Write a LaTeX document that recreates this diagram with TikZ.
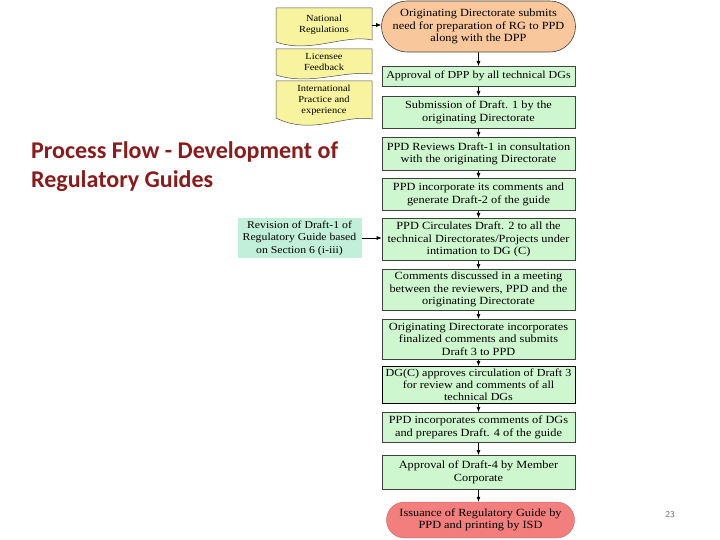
\documentclass[tikz,border=0pt]{standalone}
\usepackage{fontspec}
\setmainfont{Liberation Serif}
\newfontfamily\boxfont[FakeStretch=1.12]{Liberation Serif}
\newfontfamily\titlefont{Carlito}
\usetikzlibrary{arrows.meta,shapes.misc}
\definecolor{boxgreen}{HTML}{CFF7CF}
\definecolor{revgreen}{HTML}{C2EFD9}
\definecolor{peach}{HTML}{F8C79C}
\definecolor{redfill}{HTML}{F27E7E}
\definecolor{docyellow}{HTML}{F8F39E}
\definecolor{titlered}{HTML}{8A1B1B}
\tikzset{
  gbox/.style={draw=black!75, line width=0.6pt, fill=boxgreen, align=center, inner sep=1pt,
    minimum width=193pt, font=\boxfont\fontsize{11}{12.5}\selectfont, anchor=north},
  doctext/.style={align=center, inner sep=0pt, font=\boxfont\fontsize{9.3}{11}\selectfont, minimum width=96pt},
  docshape/.style={draw=black!70, line width=0.5pt, fill=docyellow},
  arr/.style={-{Latex[length=5pt,width=4pt]}, line width=0.6pt, black},
}
\begin{document}
\begin{tikzpicture}[x=1pt,y=-1pt]
\useasboundingbox (0,0) rectangle (720,540);
% title
\node[anchor=north west, align=left, inner sep=0pt, text=titlered,
  font=\titlefont\bfseries\fontsize{24}{29}\selectfont] (title) at (31,141)
  {Process Flow - Development of\\Regulatory Guides};
% yellow documents
\draw[docshape] (276,8) -- (372,8) -- (372,40) .. controls (345,34) and (310,54) .. (276,42) -- cycle;
\draw[docshape] (276,49) -- (372,49) -- (372,74) .. controls (345,70) and (310,86) .. (276,75) -- cycle;
\draw[docshape] (276,81) -- (372,81) -- (372,119) .. controls (345,114) and (312,136) .. (276,118) -- cycle;
\node[doctext, minimum height=36pt] (nat) at (324,25) {National\\Regulations};
\node[doctext] (lic) at (324,62) {Licensee\\Feedback};
\node[doctext] (intl) at (324,100) {International\\Practice and\\experience};
% start
\node[draw=black!75, line width=0.6pt, fill=peach, rounded rectangle, minimum width=196pt,
  minimum height=51pt, align=center, inner sep=1pt, font=\boxfont\fontsize{11}{12.5}\selectfont] (orig) at (478.5,26.5)
  {Originating Directorate submits\\need for preparation of RG to PPD\\along with the DPP};
% green boxes
\node[gbox, minimum height=20pt, font=\boxfont\fontsize{10.7}{12}\selectfont] (b1) at (478.5,66) {Approval of DPP by all technical DGs};
\node[gbox, minimum height=32pt] (b2) at (478.5,96) {Submission of Draft. 1 by the\\originating Directorate};
\node[gbox, minimum height=33pt] (b3) at (478.5,137) {PPD Reviews Draft-1 in consultation\\with the originating Directorate};
\node[gbox, minimum height=32pt] (b4) at (478.5,178) {PPD incorporate its comments and\\generate Draft-2 of the guide};
\node[gbox, minimum height=42pt] (b5) at (478.5,218) {PPD Circulates Draft. 2 to all the\\technical Directorates/Projects under\\intimation to DG (C)};
\node[gbox, minimum height=41pt] (b6) at (478.5,269) {Comments discussed in a meeting\\between the reviewers, PPD and the\\originating Directorate};
\node[gbox, minimum height=40pt] (b7) at (478.5,319) {Originating Directorate incorporates\\finalized comments and submits\\Draft 3 to PPD};
\node[gbox, minimum height=37pt, line width=0.9pt, draw=black, font=\boxfont\fontsize{10.8}{12}\selectfont] (b8) at (478.5,366) {DG(C) approves circulation of Draft 3\\for review and comments of all\\technical DGs};
\node[gbox, minimum height=30pt] (b9) at (478.5,412) {PPD incorporates comments of DGs\\and prepares Draft. 4 of the guide};
\node[gbox, minimum height=34pt] (b10) at (478.5,455) {Approval of Draft-4 by Member\\Corporate};
\node[fill=redfill, draw=redfill!80!black, line width=0.4pt, rounded rectangle, minimum width=190pt, minimum height=36pt,
  align=center, inner sep=1pt, font=\boxfont\fontsize{11}{12.5}\selectfont] (end) at (480.5,520)
  {Issuance of Regulatory Guide by\\PPD and printing by ISD};
% revision
\node[fill=revgreen, minimum width=124pt, minimum height=40pt, align=center, inner sep=1pt,
  font=\boxfont\fontsize{10.5}{12.5}\selectfont] (rev) at (299.5,238)
  {Revision of Draft-1 of\\Regulatory Guide based\\on Section 6 (i-iii)};
% arrows
\draw[arr] (nat.east) -- (orig.west |- nat.east);
\draw[arr] (rev.east) -- (b5.west |- rev.east);
\draw[arr] (orig) -- (b1);
\draw[arr] (b1) -- (b2);
\draw[arr] (b2) -- (b3);
\draw[arr] (b3) -- (b4);
\draw[arr] (b4) -- (b5);
\draw[arr] (b5) -- (b6);
\draw[arr] (b6) -- (b7);
\draw[arr] (b7) -- (b8);
\draw[arr] (b8) -- (b9);
\draw[arr] (b9) -- (b10);
\draw[arr] (b10.south) -- (b10.south |- end.north);
% page number
\node[text=black!60, font=\sffamily\fontsize{9}{10}\selectfont, inner sep=0pt] (pg) at (670,515) {23};
\end{tikzpicture}
\end{document}
